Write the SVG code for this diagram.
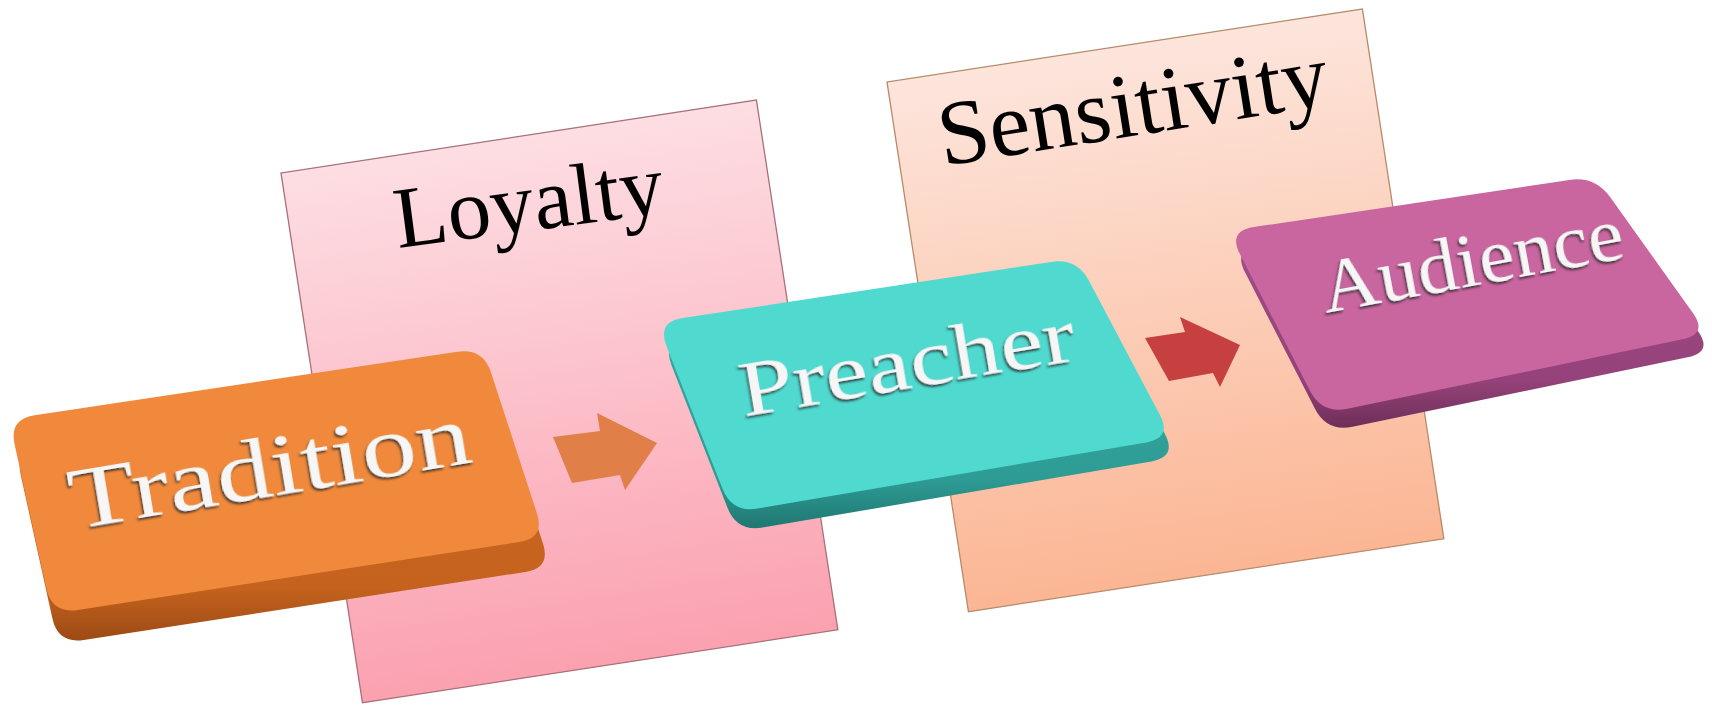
<svg xmlns="http://www.w3.org/2000/svg" width="1712" height="708" viewBox="0 0 1712 708">
  <defs>
    <style>
      .panel-title { font-family: "Liberation Serif", "Times New Roman", serif; fill: #000; }
      .key-label { font-family: "Liberation Serif", "Times New Roman", serif; fill: #F6F6F6; filter: url(#emboss); }
    </style>
    <linearGradient id="gLoyalty" x1="0" y1="0" x2="0" y2="1">
      <stop offset="0" stop-color="#FDDEE3"/>
      <stop offset="1" stop-color="#FBA1B0"/>
    </linearGradient>
    <linearGradient id="gSensitivity" x1="0" y1="0" x2="0" y2="1">
      <stop offset="0" stop-color="#FDE5DC"/>
      <stop offset="1" stop-color="#FBB694"/>
    </linearGradient>
    <linearGradient id="sideOrange" x1="0" y1="0" x2="0" y2="1">
      <stop offset="0" stop-color="#D06A22"/>
      <stop offset="0.8" stop-color="#C4621E"/>
      <stop offset="1" stop-color="#9C4A15"/>
    </linearGradient>
    <linearGradient id="sideTeal" x1="0" y1="0" x2="0" y2="1">
      <stop offset="0" stop-color="#35ADA5"/>
      <stop offset="0.8" stop-color="#2E9C95"/>
      <stop offset="1" stop-color="#1F7771"/>
    </linearGradient>
    <linearGradient id="sidePlum" x1="0" y1="0" x2="0" y2="1">
      <stop offset="0" stop-color="#A5508A"/>
      <stop offset="0.8" stop-color="#944279"/>
      <stop offset="1" stop-color="#6E2E58"/>
    </linearGradient>
    <filter id="emboss" x="-10%" y="-30%" width="120%" height="160%">
      <feDropShadow dx="-1.5" dy="2" stdDeviation="0.8" flood-color="#2A2A2A" flood-opacity="0.85"/>
    </filter>
    <!-- key top faces, slightly skewed for the tilted 3D look -->
    <path id="faceTradition" d="M34.7,415.2 L457.3,351.8 Q483,348 491.1,372.7 L536.9,513.3 Q545,538 519.3,542 L77.7,610 Q52,614 46.4,588.6 L14.6,444.4 Q9,419 34.7,415.2 Z"/>
    <path id="facePreacher" d="M682.7,318.1 L1051.3,261.9 Q1077,258 1089.1,281 L1159.9,415 Q1172,438 1146.4,442.4 L757.6,508.6 Q732,513 722.5,488.8 L666.5,346.2 Q657,322 682.7,318.1 Z"/>
    <path id="faceAudience" d="M1253.7,227.1 L1569.3,179.9 Q1595,176 1610.1,197.1 L1692.9,312.9 Q1708,334 1682.5,339.3 L1347.5,408.7 Q1322,414 1310.1,390.9 L1239.9,254.1 Q1228,231 1253.7,227.1 Z"/>
  </defs>

  <!-- background panels -->
  <g id="panel-loyalty">
    <rect x="0" y="0" width="481" height="536" transform="translate(281,173) rotate(-8.74)" fill="url(#gLoyalty)" stroke="#A8707A" stroke-width="1.3"/>
    <text class="panel-title" x="0" y="0" font-size="87" transform="translate(398,248) rotate(-7.5)">Loyalty</text>
  </g>
  <g id="panel-sensitivity">
    <rect x="0" y="0" width="481" height="536" transform="translate(887,82) rotate(-8.74)" fill="url(#gSensitivity)" stroke="#B88A6A" stroke-width="1.3"/>
    <text class="panel-title" x="0" y="0" font-size="92" transform="translate(943,166) rotate(-9)">Sensitivity</text>
  </g>

  <!-- flow arrows -->
  <g id="connectors">
    <polygon id="arrow-tradition-preacher" points="553,437 600,431 597,413 657,443 625,490 620,475 572,483" fill="#E07F47"/>
    <polygon id="arrow-preacher-audience" points="1145,338 1185,332 1180,317 1240,345 1220,387 1213,373 1169,381" fill="#C6403F"/>
  </g>

  <!-- keys -->
  <g id="node-tradition">
    <use href="#faceTradition" transform="translate(6,30)" fill="url(#sideOrange)"/>
    <use href="#faceTradition" fill="#F0893B"/>
    <text class="key-label" x="0" y="0" font-size="86" textLength="406" lengthAdjust="spacingAndGlyphs" transform="translate(74,529) rotate(-9.5)">Tradition</text>
  </g>
  <g id="node-preacher">
    <use href="#facePreacher" transform="translate(5,19)" fill="url(#sideTeal)"/>
    <use href="#facePreacher" fill="#4FD9CF"/>
    <text class="key-label" x="0" y="0" font-size="79" textLength="339" lengthAdjust="spacingAndGlyphs" transform="translate(744,416) rotate(-9.6)">Preacher</text>
  </g>
  <g id="node-audience">
    <use href="#faceAudience" transform="translate(5,18)" fill="url(#sidePlum)"/>
    <use href="#faceAudience" fill="#C9659F"/>
    <text class="key-label" x="0" y="0" font-size="77" textLength="306" lengthAdjust="spacingAndGlyphs" transform="translate(1326,313) rotate(-10.5)">Audience</text>
  </g>
</svg>
